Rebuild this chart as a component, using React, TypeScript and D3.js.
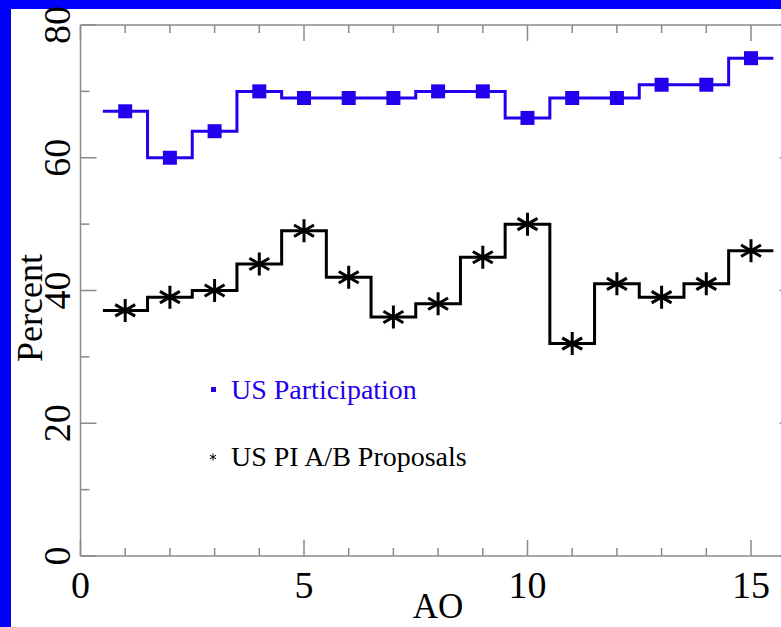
import React from "react";
import * as d3 from "d3";

// Award opportunity (AO) index
const aoValues = [1, 2, 3, 4, 5, 6, 7, 8, 9, 10, 11, 12, 13, 14, 15];
// US participation, percent
const usParticipation = [67, 60, 64, 70, 69, 69, 69, 70, 70, 66, 69, 69, 71, 71, 75];
// US PI A/B proposals, percent
const usPIProposals = [37, 39, 40, 44, 49, 42, 36, 38, 45, 50, 32, 41, 39, 41, 46];

const xTickLabels = [0, 5, 10, 15];
const yTickLabels = [0, 20, 40, 60, 80];

const W = 781;
const H = 627;
const BLUE = "#2200ee";
const FRAME = "#0000ff";
const AXIS = "#8a8a8a";
const FONT = "'Liberation Serif', 'Times New Roman', serif";

export default function App() {
  const x = d3.scaleLinear().domain([0, 16]).range([80.5, 795.7]);
  const y = d3.scaleLinear().domain([0, 80]).range([556, 25]);

  const stepLine = (vals: number[]) => {
    const pts: [number, number][] = [];
    aoValues.forEach((a, i) => {
      pts.push([a - 0.5, vals[i]]);
      pts.push([a + 0.5, vals[i]]);
    });
    return d3
      .line<[number, number]>()
      .x((d) => x(d[0]))
      .y((d) => y(d[1]))(pts) as string;
  };

  const minorX = d3.range(0, 17, 1);
  const minorY = d3.range(0, 81, 10);

  const starPath = (r: number) => {
    const a = Math.PI / 6;
    const c = Math.cos(a) * r;
    const s = Math.sin(a) * r;
    return `M0,${-r}L0,${r}M${-c},${-s}L${c},${s}M${-c},${s}L${c},${-s}`;
  };

  const [x0, x1] = x.range();
  const [yb, yt] = y.range();

  return (
    <svg
      width={W}
      height={H}
      style={{ position: "absolute", left: 0, top: 0, background: "#fff" }}
    >
      <rect x={0} y={0} width={W} height={H} fill="#fff" />
      {/* slide frame */}
      <rect x={0} y={0} width={W} height={9} fill={FRAME} />
      <rect x={0} y={0} width={11} height={H} fill={FRAME} />

      {/* plot box */}
      <g stroke={AXIS} strokeWidth={1.5} fill="none">
        <line x1={x0} y1={yt} x2={x0} y2={yb} />
        <line x1={x1} y1={yt} x2={x1} y2={yb} />
        <line x1={x0} y1={yt} x2={x1} y2={yt} />
        <line x1={x0} y1={yb} x2={x1} y2={yb} />
        {minorX.map((v) => {
          const len = v % 5 === 0 ? 16 : 8;
          return (
            <g key={"xt" + v}>
              <line x1={x(v)} x2={x(v)} y1={yb} y2={yb - len} />
              <line x1={x(v)} x2={x(v)} y1={yt} y2={yt + len} />
            </g>
          );
        })}
        {minorY.map((v) => {
          const len = v % 20 === 0 ? 16 : 9;
          return (
            <g key={"yt" + v}>
              <line x1={x0} x2={x0 + len} y1={y(v)} y2={y(v)} />
              <line x1={x1} x2={x1 - len} y1={y(v)} y2={y(v)} />
            </g>
          );
        })}
      </g>

      {/* tick labels */}
      <g fontFamily={FONT} fontSize={38} fill="#000">
        {xTickLabels.map((v) => (
          <text key={"xl" + v} x={x(v)} y={598} textAnchor="middle">
            {v}
          </text>
        ))}
        {yTickLabels.map((v) => (
          <text
            key={"yl" + v}
            transform={`translate(70,${y(v)}) rotate(-90)`}
            textAnchor="middle"
          >
            {v}
          </text>
        ))}
        <text x={438} y={618} textAnchor="middle" fontSize={35}>
          AO
        </text>
        <text
          transform={`translate(42,308) rotate(-90)`}
          textAnchor="middle"
          fontSize={36}
        >
          Percent
        </text>
      </g>

      {/* US participation */}
      <path d={stepLine(usParticipation)} fill="none" stroke={BLUE} strokeWidth={3} />
      {aoValues.map((a, i) => (
        <rect
          key={"sq" + a}
          x={x(a) - 7}
          y={y(usParticipation[i]) - 7}
          width={14}
          height={14}
          fill={BLUE}
        />
      ))}

      {/* US PI A/B proposals */}
      <path d={stepLine(usPIProposals)} fill="none" stroke="#000" strokeWidth={3} />
      {aoValues.map((a, i) => (
        <path
          key={"st" + a}
          d={starPath(11.5)}
          transform={`translate(${x(a)},${y(usPIProposals[i])})`}
          stroke="#000"
          strokeWidth={3}
          fill="none"
        />
      ))}

      {/* legend */}
      <g fontFamily={FONT} fontSize={28}>
        <rect x={211} y={387} width={5} height={5} fill={BLUE} />
        <text x={231} y={399} fill={BLUE}>
          US Participation
        </text>
        <path
          d={starPath(3.5)}
          transform="translate(213,457)"
          stroke="#000"
          strokeWidth={1}
          fill="none"
        />
        <text x={231} y={466} fill="#000">
          US PI A/B Proposals
        </text>
      </g>
    </svg>
  );
}
